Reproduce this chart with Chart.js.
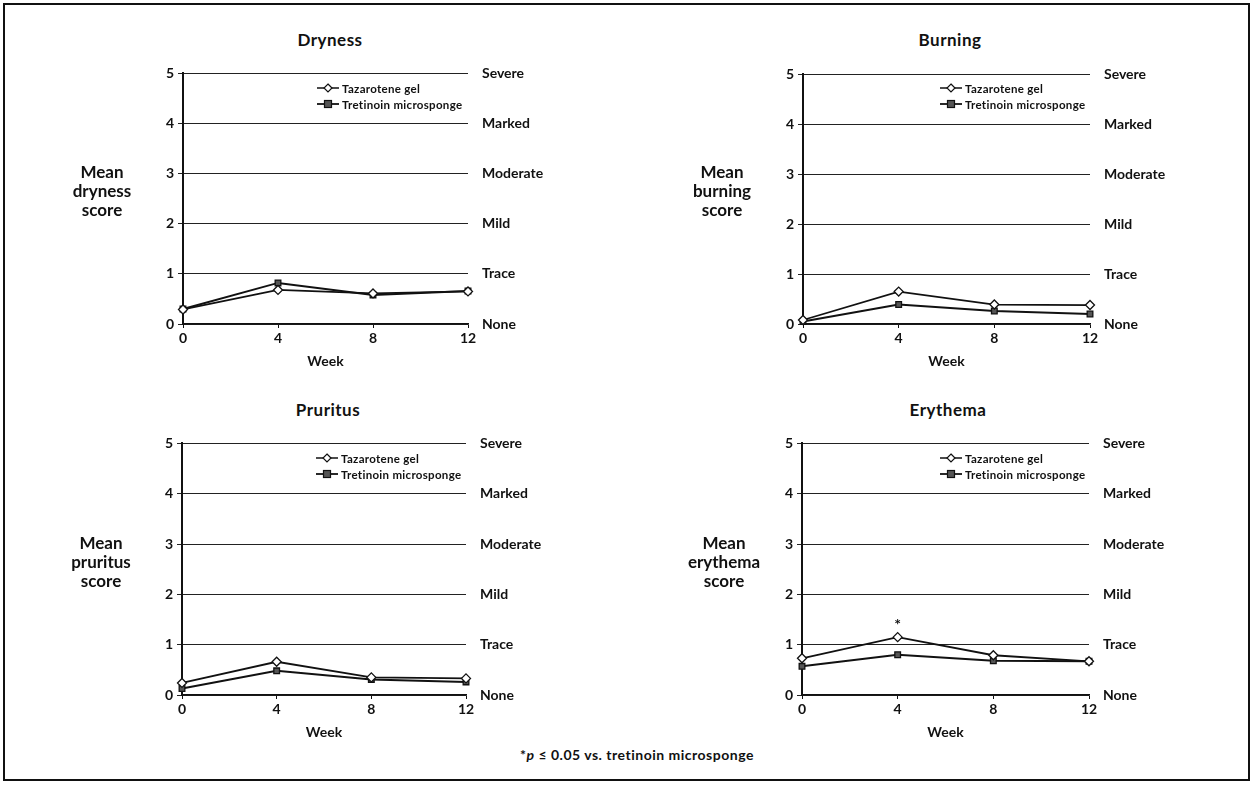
<!DOCTYPE html>
<html>
<head>
<meta charset="utf-8">
<script src="https://cdn.jsdelivr.net/npm/chart.js@4.4.1/dist/chart.umd.min.js"></script>
<style>
  body { margin: 0; background: #fff; font-family: Lato, 'DejaVu Sans', sans-serif; color: #111; }
  #page { position: relative; width: 1255px; height: 785px; overflow: hidden; }
  #frame { position: absolute; left: 3px; top: 3px; width: 1243px; height: 774px; border: 2px solid #111; }
  canvas { position: absolute; }
  .title { position: absolute; font-size: 17px; font-weight: 700; text-align: center; width: 200px; letter-spacing: 0.5px; }
  .ylabel { position: absolute; font-size: 17px; font-weight: 700; text-align: center; width: 110px; line-height: 19px; }
  .legend { position: absolute; font-size: 11.5px; font-weight: 700; letter-spacing: 0.3px; }
  .legend .row { height: 16px; display: flex; align-items: center; white-space: nowrap; }
  .legend svg { margin-right: 3px; }
  #footnote { position: absolute; left: 437px; top: 746px; width: 400px; text-align: center; font-size: 14px; font-weight: 700; letter-spacing: 0.5px; }
</style>
</head>
<body>
<div id="page">
  <div id="frame"></div>
  <div id="footnote">*<i>p</i> ≤ 0.05 vs. tretinoin microsponge</div>
</div>
<script>
//data
const weeks = [0, 4, 8, 12];
const severityLabels = ['None', 'Trace', 'Mild', 'Moderate', 'Marked', 'Severe'];
const seriesNames = ['Tazarotene gel', 'Tretinoin microsponge'];

const drynessTaz = [0.29, 0.68, 0.61, 0.65];
const drynessTret = [0.30, 0.82, 0.58, 0.66];
const burningTaz = [0.08, 0.65, 0.39, 0.38];
const burningTret = [0.05, 0.39, 0.26, 0.20];
const pruritusTaz = [0.24, 0.66, 0.35, 0.33];
const pruritusTret = [0.13, 0.48, 0.31, 0.26];
const erythemaTaz = [0.73, 1.15, 0.79, 0.67];
const erythemaTret = [0.57, 0.80, 0.68, 0.67];
const erythemaSignificant = [4];

//panel layout
const panels = [
  { title: 'Dryness', label: ['Mean', 'dryness', 'score'], taz: drynessTaz, tret: drynessTret,
    axisX: 183, rightX: 468, y5: 73, y0: 324, titleX: 330, titleY: 40, labelX: 102, labelY: 172,
    legendX: 317, legendY: 80, sig: [] },
  { title: 'Burning', label: ['Mean', 'burning', 'score'], taz: burningTaz, tret: burningTret,
    axisX: 803, rightX: 1090, y5: 74, y0: 324, titleX: 950, titleY: 40, labelX: 722, labelY: 172,
    legendX: 940, legendY: 80, sig: [] },
  { title: 'Pruritus', label: ['Mean', 'pruritus', 'score'], taz: pruritusTaz, tret: pruritusTret,
    axisX: 182, rightX: 466, y5: 443, y0: 695, titleX: 328, titleY: 410, labelX: 101, labelY: 543,
    legendX: 316, legendY: 450, sig: [] },
  { title: 'Erythema', label: ['Mean', 'erythema', 'score'], taz: erythemaTaz, tret: erythemaTret,
    axisX: 802, rightX: 1089, y5: 443, y0: 695, titleX: 948, titleY: 410, labelX: 724, labelY: 543,
    legendX: 940, legendY: 450, sig: erythemaSignificant }
];

const page = document.getElementById('page');
const leftW = 60;
const rightW = 110;
const bottomH = 50;
const topPad = 10;
// chart.js adds room for the top tick label on top of the padding
const topOffset = 22;

Chart.defaults.font.family = 'Lato';
Chart.defaults.font.weight = 'bold';
Chart.defaults.color = '#111';

//plugin for significance asterisks
const asteriskPlugin = {
  id: 'asterisks',
  afterDatasetsDraw(chart, args, opts) {
    if (!opts.weeks || !opts.weeks.length) return;
    const meta = chart.getDatasetMeta(0);
    const ctx = chart.ctx;
    ctx.save();
    ctx.font = 'bold 16px Lato';
    ctx.fillStyle = '#111';
    ctx.textAlign = 'center';
    ctx.textBaseline = 'middle';
    opts.weeks.forEach(w => {
      const i = weeks.indexOf(w);
      const pt = meta.data[i];
      ctx.fillText('*', pt.x, pt.y - 12);
    });
    ctx.restore();
  }
};

panels.forEach(p => createPanel(p));

function createPanel(p) {
  const canvas = document.createElement('canvas');
  const w = leftW + (p.rightX - p.axisX) + rightW;
  const h = topOffset + (p.y0 - p.y5) + bottomH;
  canvas.width = w;
  canvas.height = h;
  canvas.style.left = (p.axisX - leftW) + 'px';
  canvas.style.top = (p.y5 - topOffset) + 'px';
  canvas.style.width = w + 'px';
  canvas.style.height = h + 'px';
  page.appendChild(canvas);

  addText('title', p.title, p.titleX - 100, p.titleY - 11);
  addText('ylabel', p.label.join('<br>'), p.labelX - 55, p.labelY - 10);
  addLegend(p.legendX, p.legendY);

  new Chart(canvas, {
    type: 'line',
    data: {
      datasets: [{
        label: seriesNames[0],
        data: weeks.map((wk, i) => ({ x: wk, y: p.taz[i] })),
        borderColor: '#111',
        borderWidth: 1.8,
        pointStyle: 'rectRot',
        pointRadius: 4.5,
        pointBackgroundColor: '#fff',
        pointBorderColor: '#111',
        pointBorderWidth: 1.3,
        clip: false
      }, {
        label: seriesNames[1],
        data: weeks.map((wk, i) => ({ x: wk, y: p.tret[i] })),
        borderColor: '#111',
        borderWidth: 2,
        pointStyle: 'rect',
        pointRadius: 4,
        pointBackgroundColor: '#555',
        pointBorderColor: '#111',
        pointBorderWidth: 1.3,
        clip: false
      }]
    },
    options: {
      responsive: false,
      animation: false,
      layout: { padding: { top: topPad, left: 0, right: 0, bottom: 0 } },
      plugins: {
        legend: { display: false },
        tooltip: { enabled: false },
        asterisks: { weeks: p.sig }
      },
      scales: {
        x: {
          type: 'linear',
          min: 0,
          max: 12,
          ticks: { stepSize: 4, padding: 2, font: { size: 14, weight: 'bold' }, color: '#111' },
          grid: { drawOnChartArea: false, tickLength: 4, color: '#111' },
          border: { color: '#111', width: 1.5 },
          title: { display: true, text: 'Week', font: { size: 14, weight: 'bold' }, color: '#111', padding: { bottom: 4 } },
          afterFit: scale => { scale.height = bottomH; }
        },
        y: {
          min: 0,
          max: 5,
          ticks: { stepSize: 1, padding: 4, font: { size: 14, weight: 'bold' }, color: '#111' },
          grid: { color: '#222', lineWidth: 1, tickLength: 5 },
          border: { color: '#111', width: 2 },
          afterFit: scale => { scale.width = leftW; }
        },
        y2: {
          position: 'right',
          min: 0,
          max: 5,
          ticks: {
            stepSize: 1,
            padding: 14,
            font: { size: 14, weight: 'bold' },
            color: '#111',
            callback: v => severityLabels[v]
          },
          grid: { drawOnChartArea: false, drawTicks: false },
          border: { display: false },
          afterFit: scale => { scale.width = rightW; }
        }
      }
    },
    plugins: [asteriskPlugin]
  });
}

function addText(cls, html, x, y) {
  const el = document.createElement('div');
  el.className = cls;
  el.innerHTML = html;
  el.style.left = x + 'px';
  el.style.top = y + 'px';
  page.appendChild(el);
}

function addLegend(x, y) {
  const el = document.createElement('div');
  el.className = 'legend';
  el.style.left = x + 'px';
  el.style.top = y + 'px';
  el.innerHTML =
    '<div class="row"><svg width="22" height="10"><line x1="0" y1="5" x2="22" y2="5" stroke="#111" stroke-width="1.5"/>' +
    '<polygon points="11,1 15,5 11,9 7,5" fill="#fff" stroke="#111" stroke-width="1.2"/></svg>' +
    '<span>' + seriesNames[0] + '</span></div>' +
    '<div class="row"><svg width="22" height="10"><line x1="0" y1="5" x2="22" y2="5" stroke="#111" stroke-width="1.8"/>' +
    '<rect x="7.5" y="1.5" width="7" height="7" fill="#555" stroke="#111" stroke-width="1.2"/></svg>' +
    '<span>' + seriesNames[1] + '</span></div>';
  page.appendChild(el);
}
</script>
</body>
</html>
